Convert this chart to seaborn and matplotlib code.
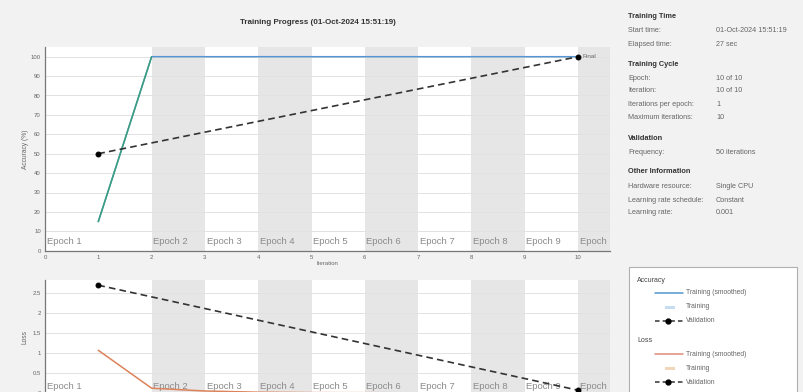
import numpy as np
import pandas as pd
import matplotlib
matplotlib.use("Agg")
import matplotlib.pyplot as plt
from matplotlib.lines import Line2D
from matplotlib.patches import Rectangle
import seaborn as sns

# data
iterations = [1, 2, 3, 4, 5, 6, 7, 8, 9, 10]
train_acc = [15, 100, 100, 100, 100, 100, 100, 100, 100, 100]
val_iters = [1, 10]
val_acc = [50, 100]
train_loss = [1.07, 0.12, 0.05, 0.02, 0.01, 0.008, 0.005, 0.004, 0.003, 0.002]
val_loss = [2.7, 0.07]
epoch_labels = ["Epoch 1", "Epoch 2", "Epoch 3", "Epoch 4", "Epoch 5",
                "Epoch 6", "Epoch 7", "Epoch 8", "Epoch 9", "Epoch 10"]
epoch_starts = [0, 2, 3, 4, 5, 6, 7, 8, 9, 10]
shaded_epochs = [2, 4, 6, 8, 10]

info_rows = [
    ("Training Time", None),
    ("Start time:", "01-Oct-2024 15:51:19"),
    ("Elapsed time:", "27 sec"),
    ("Training Cycle", None),
    ("Epoch:", "10 of 10"),
    ("Iteration:", "10 of 10"),
    ("Iterations per epoch:", "1"),
    ("Maximum iterations:", "10"),
    ("Validation", None),
    ("Frequency:", "50 iterations"),
    ("Other Information", None),
    ("Hardware resource:", "Single CPU"),
    ("Learning rate schedule:", "Constant"),
    ("Learning rate:", "0.001"),
]
info_y = [17, 31, 44, 64, 78, 91, 104, 117, 138, 152, 172, 186, 200, 213]

BG = "#f2f2f2"
BLUE = "#5596d0"
GREEN = "#3a9f7c"
ORANGE = "#dd8259"
DARK = "#333333"


def main():
    sns.set_theme(style="white")
    plt.rcParams["font.family"] = ["Liberation Sans", "DejaVu Sans"]

    W, H = 804, 392
    fig = plt.figure(figsize=(W / 100, H / 100), dpi=100, facecolor=BG)

    def fx(px):
        return px / W

    def fy(py):
        return 1 - py / H

    left, right = 45, 610
    ax1 = fig.add_axes([fx(left), fy(250.7), fx(right - left), (250.7 - 47) / H])
    ax2 = fig.add_axes([fx(left), fy(393), fx(right - left), (393 - 280) / H])

    df_acc = pd.DataFrame({"Iteration": iterations, "Accuracy": train_acc})
    df_vacc = pd.DataFrame({"Iteration": val_iters, "Accuracy": val_acc})
    df_loss = pd.DataFrame({"Iteration": iterations, "Loss": train_loss})
    df_vloss = pd.DataFrame({"Iteration": val_iters, "Loss": val_loss})

    for ax, ylim, yticks, ylab_y in [
        (ax1, (0, 105), np.arange(0, 101, 10), 5),
        (ax2, (0, 2.83), np.arange(0, 2.6, 0.5), 0.17),
    ]:
        ax.set_facecolor("white")
        ax.set_xlim(0, 10.6)
        ax.set_ylim(*ylim)
        ax.set_axisbelow(True)
        ax.yaxis.grid(True, color="#e2e2e2", lw=0.7)
        ax.xaxis.grid(False)
        for s in shaded_epochs:
            ax.axvspan(s, s + 1, color="#e6e6e6", lw=0, zorder=0)
        for lab, x0 in zip(epoch_labels, epoch_starts):
            ax.text(x0 + 0.03, ylab_y, lab, fontsize=6.8, color="#8a8a8a",
                    va="center", ha="left", clip_on=True, zorder=2)
        ax.set_xticks(range(0, 11))
        ax.set_yticks(yticks)
        ax.tick_params(axis="both", labelsize=4.3, labelcolor="#666666",
                       direction="inout", length=3, width=0.6, color="#666666", pad=1.5)
        for sp in ["top", "right"]:
            ax.spines[sp].set_visible(False)
        for sp in ["left", "bottom"]:
            ax.spines[sp].set_color("#777777")
            ax.spines[sp].set_linewidth(0.9)

    ax1.set_yticklabels([str(v) for v in range(0, 101, 10)])
    ax2.set_yticklabels(["0", "0.5", "1", "1.5", "2", "2.5"])

    # accuracy
    sns.lineplot(data=df_acc, x="Iteration", y="Accuracy", ax=ax1, color=BLUE, lw=1.1)
    sns.lineplot(data=df_acc.iloc[:2], x="Iteration", y="Accuracy", ax=ax1, color=GREEN, lw=1.1)
    sns.lineplot(data=df_vacc, x="Iteration", y="Accuracy", ax=ax1, color=DARK, lw=1.2,
                 marker="o", markersize=3.5, markeredgecolor="black",
                 markerfacecolor="black", dashes=False, linestyle=(0, (4, 2.5)))
    ax1.annotate("Final", (val_iters[-1], val_acc[-1]), xytext=(3, 0),
                 textcoords="offset points", fontsize=4.6, color="#666666", va="center")
    ax1.set_xlabel("Iteration", fontsize=4.3, color="#666666", labelpad=1)
    ax1.set_ylabel("Accuracy (%)", fontsize=4.8, color="#666666", labelpad=1)

    # loss
    sns.lineplot(data=df_loss, x="Iteration", y="Loss", ax=ax2, color=ORANGE, lw=1.1)
    sns.lineplot(data=df_vloss, x="Iteration", y="Loss", ax=ax2, color=DARK, lw=1.2,
                 marker="o", markersize=3.5, markeredgecolor="black",
                 markerfacecolor="black", dashes=False, linestyle=(0, (4, 2.5)))
    ax2.set_xlabel("")
    ax2.set_xticklabels([])
    ax2.set_ylabel("Loss", fontsize=4.8, color="#666666", labelpad=3)

    fig.text(fx(318), fy(22), "Training Progress (01-Oct-2024 15:51:19)",
             fontsize=5.8, fontweight="bold", color="#333333", ha="center", va="center")

    # info panel
    for (lab, val), y in zip(info_rows, info_y):
        if val is None:
            fig.text(fx(628), fy(y), lab, fontsize=5.3, color="#333333",
                     fontweight="bold", va="center")
        else:
            fig.text(fx(628), fy(y), lab, fontsize=5.2, color="#666666", va="center")
            fig.text(fx(716), fy(y), val, fontsize=5.2, color="#666666", va="center")

    # legend panel
    fig.patches.append(Rectangle((fx(629), fy(398)), fx(797 - 629), (398 - 267) / H,
                                 transform=fig.transFigure, facecolor="white",
                                 edgecolor="#b0b0b0", lw=0.8, zorder=0))
    legend_groups = [("Accuracy", BLUE, "#c6dcf0", 280), ("Loss", "#e08a78", "#f2d6bc", 341)]
    for title, lc, pc, y0 in legend_groups:
        fig.text(fx(637), fy(y0), title, fontsize=5, color="#444444", va="center")
        rows = [("Training (smoothed)", y0 + 13), ("Training", y0 + 27), ("Validation", y0 + 41)]
        for i, (lab, y) in enumerate(rows):
            if i == 0:
                fig.lines.append(Line2D([fx(655), fx(683)], [fy(y), fy(y)],
                                        transform=fig.transFigure, color=lc, lw=1.1))
            elif i == 1:
                fig.patches.append(Rectangle((fx(665), fy(y + 1.5)), fx(10), 3 / H,
                                             transform=fig.transFigure, facecolor=pc, lw=0))
            else:
                fig.lines.append(Line2D([fx(655), fx(683)], [fy(y), fy(y)],
                                        transform=fig.transFigure, color=DARK, lw=1.1,
                                        linestyle=(0, (3, 2))))
                fig.lines.append(Line2D([fx(668)], [fy(y)], transform=fig.transFigure,
                                        marker="o", markersize=3.5, color="black"))
            fig.text(fx(686), fy(y), lab, fontsize=4.9, color="#666666", va="center")

    plt.savefig("out.png", dpi=100, facecolor=BG)
    plt.close()


if __name__ == "__main__":
    main()
